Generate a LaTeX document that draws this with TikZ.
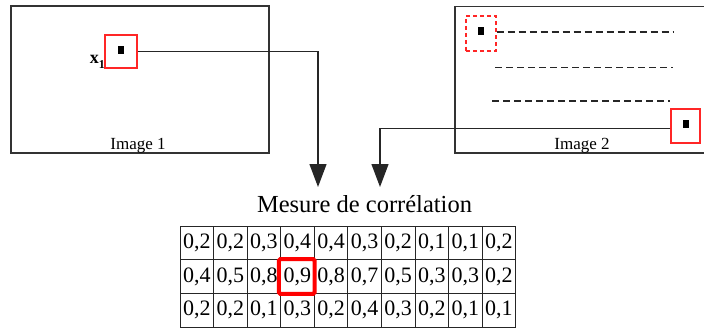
\documentclass[tikz,border=0pt]{standalone}
\usepackage{fontspec}
\setmainfont{Liberation Serif}
\usetikzlibrary{arrows.meta}
\begin{document}
\begin{tikzpicture}[x=1pt,y=-1pt,
  frame/.style={draw=black!80,line width=1.4pt},
  redbox/.style={draw=red!85!white,line width=1.1pt,inner sep=0pt,minimum width=#1},
  dot/.style={fill=black,inner sep=0pt,minimum width=6pt,minimum height=8pt},
  conn/.style={draw=black!85,line width=1.3pt},
  arr/.style={conn,-{Triangle[length=23pt,width=17pt]}},
  dline/.style={draw=black!85,line width=1.3pt,dash pattern=on 7pt off 4pt},
  cell/.style={draw=black!85,line width=0.9pt,minimum width=33.57pt,minimum height=33.67pt,inner sep=0pt,font=\fontsize{22}{22}\selectfont},
  lbl/.style={font=\fontsize{17}{17}\selectfont,anchor=base,inner sep=0pt}
]
\useasboundingbox (0,0) rectangle (704,329);
% Image 1
\draw[frame] (11,6) rectangle (269,153);
\node[lbl] (lab1) at (138,149) {Image 1};
\node[redbox=32pt,minimum height=33pt] (r1) at (121,51.5) {};
\node[dot] (d1) at (120.5,50) {};
\node[inner sep=0pt,anchor=base east] (x1) at (105,63.5) {\fontsize{18}{18}\selectfont\textbf{x}\raisebox{-5pt}{\fontsize{12}{12}\selectfont\textbf{1}}};
% Image 2
\draw[frame] (712,6.3) -- (455,6.3) -- (455,153) -- (712,153);
\node[lbl] (lab2) at (582,149) {Image 2};
\node[redbox=30pt,minimum height=35pt,dash pattern=on 4pt off 3pt] (r2) at (481,33.5) {};
\node[dot] (d2) at (480.7,31) {};
\node[redbox=29pt,minimum height=34pt] (r3) at (685.5,126) {};
\node[dot] (d3) at (685.5,124) {};
\coordinate (e1) at (673,32);
\coordinate (s2) at (495,67.5);
\coordinate (e2) at (673,67.5);
\coordinate (s3) at (492,101);
\coordinate (e3) at (670,101);
\draw[dline] (r2.east |- e1) -- (e1);
\draw[dline] (s2) -- (e2);
\draw[dline] (s3) -- (e3);
% Title
\node[font=\fontsize{24.5}{24.5}\selectfont,anchor=base,inner sep=0pt] (title) at (364.5,212) {Mesure de corrélation};
% connectors
\coordinate (k1) at (318,51.5);
\coordinate (t1) at (318,187);
\coordinate (k2) at (380,128.5);
\coordinate (t2) at (380,187);
\draw[arr] (r1.east |- k1) -- (k1) -- (t1);
\draw[arr] (k2 -| r3.west) -- (k2) -- (t2);
% table
\foreach \row [count=\i] in {{2,2,3,4,4,3,2,1,1,2},{4,5,8,9,8,7,5,3,3,2},{2,2,1,3,2,4,3,2,1,1}}{
  \foreach \v [count=\j] in \row {
    \node[cell] (c-\i-\j) at ({180+33.57*(\j-0.5)},{226+33.67*(\i-0.5)}) {0,\v};
  }
}
\draw[red,line width=4pt,rounded corners=1.5pt] ([xshift=-1.5pt]c-2-4.north west) rectangle (c-2-4.south east);
\end{tikzpicture}
\end{document}
